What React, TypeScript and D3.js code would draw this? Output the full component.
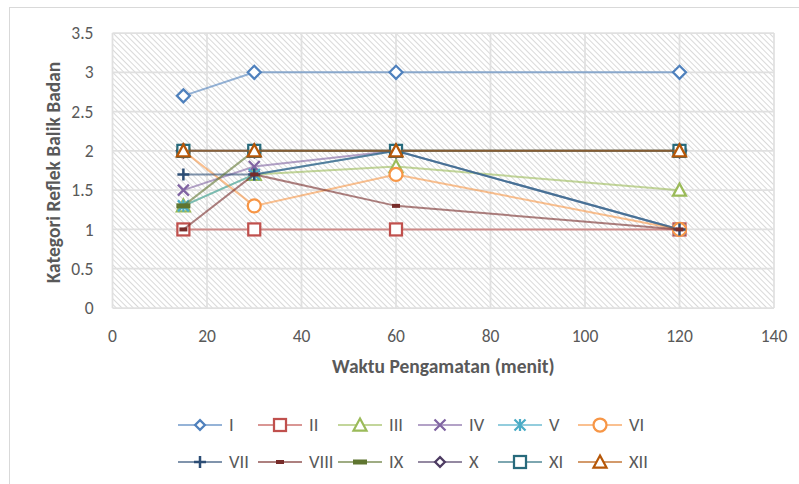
import React from "react";
import * as d3 from "d3";

const xValues = [15, 30, 60, 120];
const seriesNames = ["I", "II", "III", "IV", "V", "VI", "VII", "VIII", "IX", "X", "XI", "XII"];
const sI = [2.7, 3, 3, 3];
const sII = [1, 1, 1, 1];
const sIII = [1.3, 1.7, 1.8, 1.5];
const sIV = [1.5, 1.8, 2, 1];
const sV = [1.3, 1.7, 2, 1];
const sVI = [2, 1.3, 1.7, 1];
const sVII = [1.7, 1.7, 2, 1];
const sVIII = [1, 1.7, 1.3, 1];
const sIX = [1.3, 2, 2, 2];
const sX = [2, 2, 2, 2];
const sXI = [2, 2, 2, 2];
const sXII = [2, 2, 2, 2];
const seriesValues = [sI, sII, sIII, sIV, sV, sVI, sVII, sVIII, sIX, sX, sXI, sXII];
const xTicks = [0, 20, 40, 60, 80, 100, 120, 140];
const yTicks = [0, 0.5, 1, 1.5, 2, 2.5, 3, 3.5];
const xTitle = "Waktu Pengamatan (menit)";
const yTitle = "Kategori Reflek Balik Badan";

const colors = ["#4F81BD", "#C0504D", "#9BBB59", "#8064A2", "#4BACC6", "#F79646", "#2C4D75", "#772C2A", "#5F7530", "#4D3B62", "#276A7C", "#B65708"];
const markers = ["diamond", "square", "triangle", "x", "star", "circle", "plus", "dash", "longdash", "diamond", "square", "triangle"];

const FONT = "Carlito, Lato, 'Liberation Sans', sans-serif";

function Marker({ type, x, y, color, s = 1 }: { type: string; x: number; y: number; color: string; s?: number }) {
  const sw = 2.25;
  switch (type) {
    case "diamond": {
      const r = 6.5 * s;
      return <path d={`M${x},${y - r} L${x + r},${y} L${x},${y + r} L${x - r},${y} Z`} fill="#fff" stroke={color} strokeWidth={sw} />;
    }
    case "square":
      return <rect x={x - 6} y={y - 6} width={12} height={12} fill="#fff" stroke={color} strokeWidth={sw} />;
    case "triangle":
      return <path d={`M${x},${y - 6.5} L${x + 6.5},${y + 5.5} L${x - 6.5},${y + 5.5} Z`} fill="#fff" stroke={color} strokeWidth={sw} />;
    case "circle":
      return <circle cx={x} cy={y} r={6.5} fill="#fff" stroke={color} strokeWidth={sw} />;
    case "x":
      return <path d={`M${x - 5.5},${y - 5.5} L${x + 5.5},${y + 5.5} M${x + 5.5},${y - 5.5} L${x - 5.5},${y + 5.5}`} stroke={color} strokeWidth={sw} fill="none" />;
    case "star":
      return <path d={`M${x - 5.5},${y - 5.5} L${x + 5.5},${y + 5.5} M${x + 5.5},${y - 5.5} L${x - 5.5},${y + 5.5} M${x},${y - 6} L${x},${y + 6}`} stroke={color} strokeWidth={sw} fill="none" />;
    case "plus":
      return <path d={`M${x - 6},${y} L${x + 6},${y} M${x},${y - 6} L${x},${y + 6}`} stroke={color} strokeWidth={2.5} fill="none" />;
    case "dash":
      return <rect x={x - 4} y={y - 2} width={8} height={4} fill={color} />;
    case "longdash":
      return <rect x={x - 7} y={y - 2.5} width={14} height={5} fill={color} />;
    default:
      return null;
  }
}

export default function App() {
  const W = 799, H = 484;
  const left = 112.5, right = 774, top = 33, bottom = 308;
  const x = d3.scaleLinear().domain([0, 140]).range([left, right]);
  const y = d3.scaleLinear().domain([0, 3.5]).range([bottom, top]);
  const line = d3.line<number>().x((_, i) => x(xValues[i])).y((d) => y(d));

  const legendX0 = 178, legendDX = 80, legendRows = [425, 462];

  return (
    <svg width={W} height={H} style={{ position: "absolute", left: 0, top: 0, background: "#fff" }} fontFamily={FONT}>
      <defs>
        <pattern id="hatch" width={4} height={4} patternUnits="userSpaceOnUse" patternTransform="rotate(-45)">
          <rect width={4} height={4} fill="#fff" />
          <line x1={0} y1={0} x2={0} y2={4} stroke="#D0D0D0" strokeWidth={1.6} />
        </pattern>
      </defs>
      <rect x={9.5} y={7.5} width={W} height={H} fill="none" stroke="#D9D9D9" strokeWidth={1} />
      <rect x={left} y={top} width={right - left} height={bottom - top} fill="url(#hatch)" />
      {yTicks.map((t) => (
        <line key={"gy" + t} x1={left} x2={right} y1={y(t)} y2={y(t)} stroke="#E0E0E0" strokeWidth={1.75} />
      ))}
      {xTicks.map((t) => (
        <line key={"gx" + t} x1={x(t)} x2={x(t)} y1={top} y2={bottom} stroke="#E0E0E0" strokeWidth={1.75} />
      ))}
      {yTicks.map((t) => (
        <text key={"ty" + t} x={left - 19} y={y(t)} dy="0.35em" textAnchor="end" fontSize={17.5} fill="#595959">{t}</text>
      ))}
      {xTicks.map((t) => (
        <text key={"tx" + t} x={x(t)} y={bottom + 28} dy="0.35em" textAnchor="middle" fontSize={17.5} fill="#595959">{t}</text>
      ))}
      <text x={(left + right) / 2} y={366} dy="0.35em" textAnchor="middle" fontSize={19.5} fontWeight="bold" fill="#595959">{xTitle}</text>
      <text transform={`translate(53,${(top + bottom) / 2 + 2}) rotate(-90)`} textAnchor="middle" dy="0.35em" fontSize={19.5} fontWeight="bold" fill="#595959">{yTitle}</text>
      {seriesValues.map((vals, si) => (
        <g key={"s" + si}>
          <path d={line(vals) || ""} fill="none" stroke={colors[si]} strokeOpacity={0.6} strokeWidth={2} />
          {vals.map((v, i) => (
            <Marker key={i} type={markers[si]} x={x(xValues[i])} y={y(v)} color={colors[si]} />
          ))}
        </g>
      ))}
      {seriesNames.map((name, si) => {
        const col = si % 6;
        const row = Math.floor(si / 6);
        const lx = legendX0 + col * legendDX;
        const ly = legendRows[row];
        return (
          <g key={"l" + si}>
            <line x1={lx} x2={lx + 44} y1={ly} y2={ly} stroke={colors[si]} strokeOpacity={0.6} strokeWidth={2} />
            <Marker type={markers[si]} x={lx + 22} y={ly} color={colors[si]} s={0.75} />
            <text x={lx + 51} y={ly} dy="0.35em" fontSize={18.5} fill="#595959">{name}</text>
          </g>
        );
      })}
    </svg>
  );
}
